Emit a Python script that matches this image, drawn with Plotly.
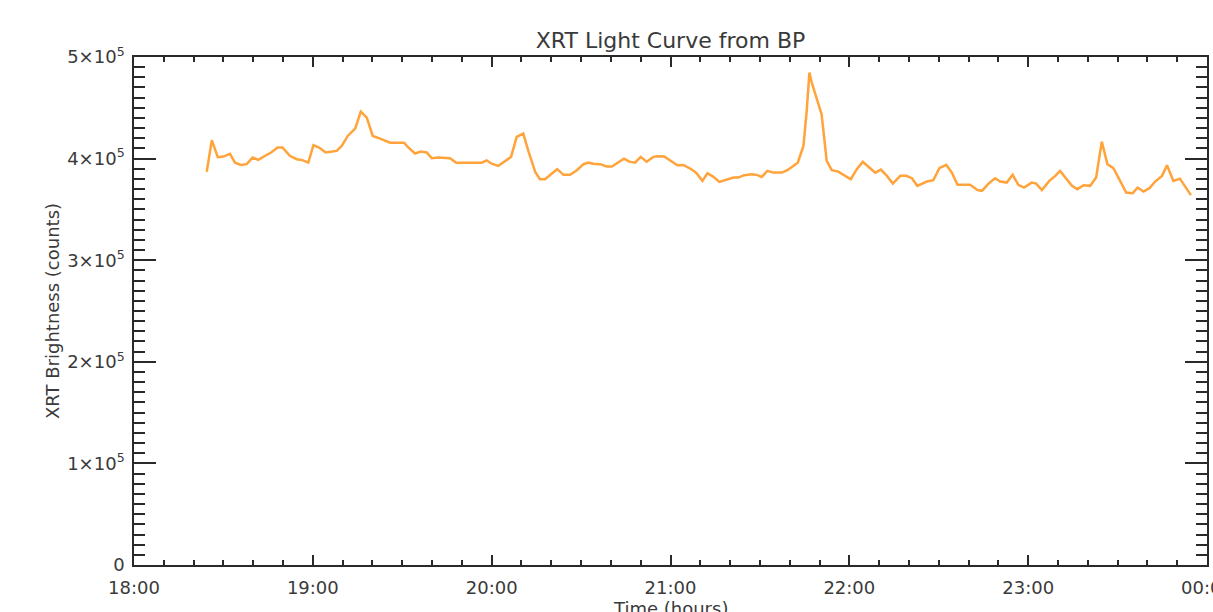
import plotly.graph_objects as go

# Time in minutes after 18:00, brightness in units of 1000 counts
minutes = [24.4, 26.1, 28.1, 30.0, 32.2, 33.9, 35.9, 37.8, 39.8, 41.7, 44.0, 46.0, 48.2, 49.8,
           52.3, 54.6, 56.3, 58.5, 60.2, 62.1, 64.3, 66.1, 68.0, 69.7, 71.7, 74.2, 76.1, 78.1,
           80.1, 82.6, 85.9, 88.7, 90.6, 92.0, 94.3, 96.2, 98.2, 99.9, 102.1, 106.0, 108.1,
           112.2, 116.7, 118.3, 120.0, 122.2, 124.5, 126.5, 128.4, 130.6, 132.3, 134.6, 136.2,
           137.9, 140.2, 142.0, 144.1, 146.3, 148.6, 150.8, 152.5, 154.1, 156.4, 158.6, 160.3,
           162.5, 164.4, 166.2, 168.1, 170.0, 172.0, 174.2, 175.9, 177.9, 179.9, 182.3, 184.3,
           186.6, 188.6, 190.7, 192.4, 194.4, 196.4, 198.9, 201.1, 202.8, 204.7, 207.3, 209.0,
           210.6, 212.5, 214.5, 217.4, 219.2, 221.0, 222.7, 224.6, 225.7, 226.6, 227.4, 229.3,
           230.7, 232.4, 234.1, 236.3, 238.6, 240.5, 242.5, 244.5, 246.7, 248.7, 250.6, 252.6,
           254.6, 257.1, 259.1, 261.0, 262.8, 266.0, 268.2, 270.2, 272.5, 274.4, 276.3, 280.5,
           283.0, 284.5, 286.7, 288.9, 290.6, 292.8, 294.8, 296.7, 298.6, 301.2, 302.7, 304.6,
           307.1, 309.1, 310.7, 312.8, 314.7, 316.5, 318.6, 320.8, 322.8, 324.7, 326.6, 328.6,
           330.9, 332.9, 335.1, 336.7, 338.7, 340.7, 342.6, 344.9, 346.6, 348.7, 350.9, 354.6]

brightness_k = [386.9, 418.1, 401.4, 402.0, 404.6, 396.0, 393.8, 394.5, 401.0, 398.7, 402.8, 406.0,
                411.0, 411.0, 402.7, 399.4, 398.7, 396.0, 413.2, 410.9, 406.0, 406.6, 407.6, 412.5,
                422.3, 429.5, 446.3, 440.3, 422.3, 419.7, 415.7, 415.7, 415.7, 411.0, 405.0, 406.9,
                406.0, 400.4, 401.0, 400.4, 396.0, 396.0, 396.0, 398.3, 395.0, 392.8, 397.7, 401.7,
                421.3, 424.6, 407.6, 386.9, 379.7, 379.7, 385.3, 389.6, 384.0, 384.0, 388.6, 394.5,
                396.0, 395.0, 394.5, 392.2, 392.2, 396.8, 400.0, 397.0, 396.0, 401.7, 397.0, 401.7,
                402.3, 402.0, 398.4, 393.5, 393.8, 390.2, 386.2, 378.1, 385.6, 382.0, 377.1, 379.7,
                381.3, 381.3, 383.7, 384.7, 384.0, 382.0, 387.9, 386.2, 386.2, 388.6, 392.8, 396.0,
                412.5, 446.9, 484.6, 474.8, 456.7, 443.6, 397.7, 388.6, 387.2, 383.0, 379.7, 389.6,
                396.8, 391.2, 386.2, 389.2, 383.0, 375.4, 383.0, 383.0, 380.7, 373.2, 377.4, 378.8,
                390.6, 393.8, 386.2, 374.2, 374.2, 369.0, 368.3, 375.4, 380.7, 377.4, 376.4, 384.0,
                374.2, 371.5, 376.4, 375.4, 369.0, 378.1, 383.0, 387.9, 380.3, 373.2, 369.9, 373.8,
                373.2, 381.3, 416.7, 394.5, 390.6, 378.1, 366.6, 366.0, 371.5, 367.6, 370.9, 377.4,
                383.0, 393.5, 378.1, 380.3, 364.0]

x_tick_vals = [18, 19, 20, 21, 22, 23, 24]
x_tick_text = ["18:00", "19:00", "20:00", "21:00", "22:00", "23:00", "00:00"]
y_tick_vals = [0, 100000, 200000, 300000, 400000, 500000]
y_tick_text = ["0", "1×10<sup>5</sup>", "2×10<sup>5</sup>", "3×10<sup>5</sup>",
               "4×10<sup>5</sup>", "5×10<sup>5</sup>"]

hours = [18 + m / 60.0 for m in minutes]
counts = [v * 1000 for v in brightness_k]

text_color = "#3a3a3a"
axis_color = "#2a2a2a"
font_family = "DejaVu Sans"

W, H = 1213, 612
L, R, T, B = 134, 6, 57, 47
plot_w = W - L - R
plot_h = H - T - B

fig = go.Figure()
fig.add_trace(go.Scatter(x=hours, y=counts, mode="lines",
                         line=dict(color="#FFA33A", width=2.5), showlegend=False))

fig.update_layout(
    width=W, height=H,
    margin=dict(l=L, r=R, t=T, b=B),
    paper_bgcolor="white", plot_bgcolor="white",
    font=dict(family=font_family, color=text_color, size=18),
    title=dict(text="XRT Light Curve from BP", x=0.5, xref="paper", y=1 - 40 / H,
               yref="container", xanchor="center", yanchor="middle",
               font=dict(family=font_family, size=22, color=text_color)),
    annotations=[
        dict(text="Time (hours)", xref="paper", yref="paper", x=0.5,
             y=(H - B - 608) / plot_h, xanchor="center", yanchor="middle",
             showarrow=False, font=dict(size=18, color=text_color)),
        dict(text="XRT Brightness (counts)", xref="paper", yref="paper",
             x=(52 - L) / plot_w, y=0.5, xanchor="center", yanchor="middle",
             textangle=-90, showarrow=False, font=dict(size=18, color=text_color)),
    ],
)

fig.update_xaxes(
    range=[18, 24], tickmode="array", tickvals=x_tick_vals, ticktext=x_tick_text,
    showgrid=False, zeroline=False, showline=True, linecolor=axis_color, linewidth=1.5,
    mirror="allticks", ticks="inside", ticklen=10, tickwidth=1.5, tickcolor=axis_color,
    ticklabelstandoff=6, ticklabeloverflow="allow",
    minor=dict(dtick=1 / 6, tick0=18, ticks="inside", ticklen=5, tickwidth=1.5,
               tickcolor=axis_color, showgrid=False),
    automargin=False,
)
fig.update_yaxes(
    range=[0, 500000], tickmode="array", tickvals=y_tick_vals, ticktext=y_tick_text,
    showgrid=False, zeroline=False, showline=True, linecolor=axis_color, linewidth=1.5,
    mirror="allticks", ticks="inside", ticklen=22, tickwidth=1.5, tickcolor=axis_color,
    ticklabelstandoff=4,
    minor=dict(dtick=10000, tick0=0, ticks="inside", ticklen=11, tickwidth=1.5,
               tickcolor=axis_color, showgrid=False),
    automargin=False,
)

fig.write_html("out.html")
